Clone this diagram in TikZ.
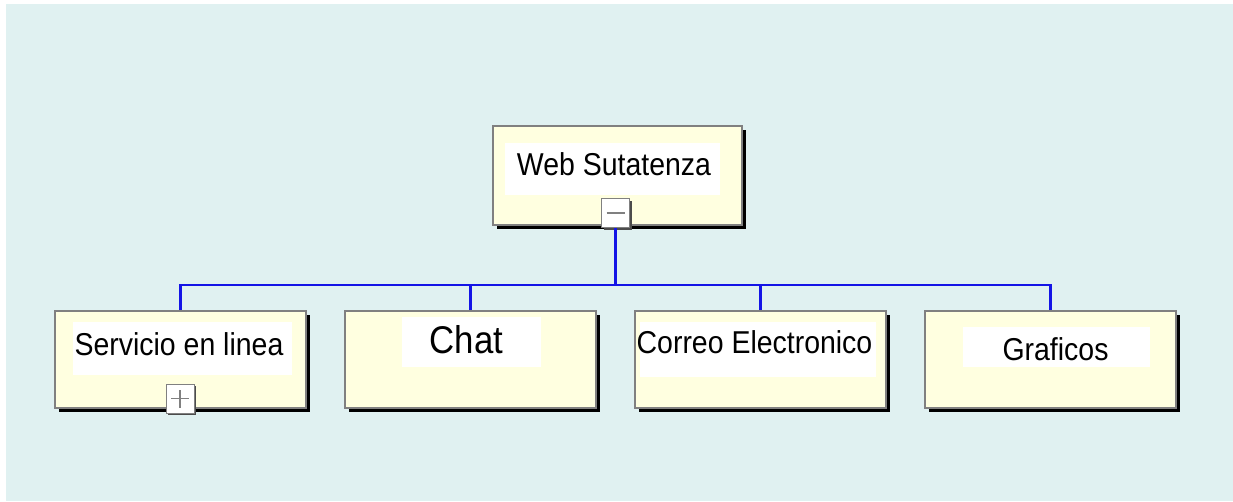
\documentclass[tikz,border=0pt]{standalone}
\usepackage{fontspec}
\setmainfont{Liberation Sans}[FakeStretch=0.9]
\usepackage{tikz}
\usetikzlibrary{shadows}
\definecolor{bgcyan}{HTML}{E0F1F1}
\definecolor{boxyellow}{HTML}{FFFFE0}
\definecolor{boxgray}{HTML}{808080}
\definecolor{linkblue}{HTML}{1414E6}
\newdimen\px \px=0.02cm
\newcommand{\txtbg}[5]{\node[fill=white, inner sep=0pt, minimum width=#4\px, minimum height=#5\px] (#1) at (#2,#3) {};}
\newcommand{\boxlbl}[4]{\node[lbl] (#1) at (#2,#3) {#4};}
\tikzset{
  orgbox/.style={draw=boxgray, line width=2\px, fill=boxyellow, inner sep=0pt,
    minimum width=251\px, minimum height=97\px,
    drop shadow={shadow xshift=4\px, shadow yshift=-4\px, fill=black, opacity=1}},
  lbl/.style={font=\fontsize{18}{20}\selectfont, inner sep=0pt, anchor=base},
  btn/.style={draw=boxgray, fill=white, line width=1\px, inner sep=0pt,
    minimum width=28\px, minimum height=29\px,
    drop shadow={shadow xshift=2\px, shadow yshift=-2\px, fill=black!70, opacity=1}},
  minusbtn/.style={btn, path picture={
    \draw[gray, line width=1.5\px] ([xshift=-9\px]path picture bounding box.center) -- ([xshift=9\px]path picture bounding box.center);}},
  plusbtn/.style={btn, path picture={
    \draw[gray, line width=1.5\px] ([xshift=-9\px]path picture bounding box.center) -- ([xshift=9\px]path picture bounding box.center);
    \draw[gray, line width=1.5\px] ([yshift=-9\px]path picture bounding box.center) -- ([yshift=9\px]path picture bounding box.center);}},
  link/.style={draw=linkblue, line width=2.5\px}
}

\begin{document}
\begin{tikzpicture}[x=1\px, y=-1\px]
            \useasboundingbox (0,0) rectangle (1233,501);
            \fill[bgcyan] (6,4) rectangle (1233,501);
            % root
            \node[orgbox, minimum width=249\px, minimum height=99\px] (web) at (617.5,175.5) {};
            \txtbg{webbg}{612.5}{169}{215}{52}
            \boxlbl{weblbl}{614}{175}{Web Sutatenza}
            \node[minusbtn] (webbtn) at (615.5,213) {};
            \coordinate (bus) at (615,285);
            % row 2
            \node[orgbox] (serv) at (180.5,359) {};
            \node[orgbox] (chat) at (470.5,359) {};
            \node[orgbox] (correo) at (760.5,359) {};
            \node[orgbox] (graf) at (1050.5,359) {};
            \txtbg{servbg}{182.5}{348.5}{219}{53}
            \boxlbl{servlbl}{179}{355}{Servicio en linea}
            \txtbg{chatbg}{471.5}{342}{139}{50}
            \node[lbl, font=\fontsize{22}{24}\selectfont] (chatlbl) at (466.5,353) {Chat};
            \txtbg{correobg}{758}{349.5}{236}{55}
            \boxlbl{correolbl}{754.5}{353}{Correo Electronico}
            \txtbg{grafbg}{1056.5}{347}{187}{40}
            \boxlbl{graflbl}{1055.5}{360}{Graficos}
            \node[plusbtn] (servbtn) at (180,398.5) {};
            % connectors
            \draw[link] (webbtn.south) -- (webbtn.south |- bus);
            \draw[link] (serv.north) |- (bus) -| (graf.north);
            \draw[link] (chat.north) -- (chat.north |- bus);
            \draw[link] (correo.north) -- (correo.north |- bus);
        \end{tikzpicture}
\end{document}
